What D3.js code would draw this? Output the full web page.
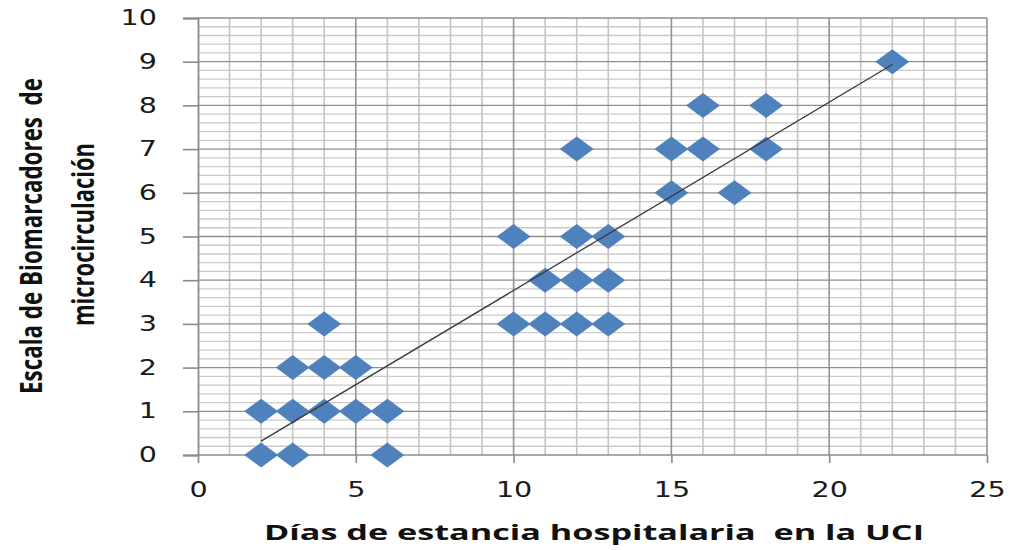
<!DOCTYPE html>
<html>
<head>
<meta charset="utf-8">
<script src="https://cdn.jsdelivr.net/npm/d3@7"></script>
<style>
  html, body { margin: 0; padding: 0; background: #ffffff; }
  svg { display: block; }
</style>
</head>
<body>
<svg id="chart" width="1012" height="550"></svg>
<script>
// ---- data ----
const diasUCI = [2, 3, 6, 2, 3, 4, 5, 6, 3, 4, 5, 4, 10, 11, 12, 13, 11, 12, 13, 10, 12, 13, 15, 17, 12, 15, 16, 18, 16, 18, 22];
const escala  = [0, 0, 0, 1, 1, 1, 1, 1, 2, 2, 2, 3, 3, 3, 3, 3, 4, 4, 4, 5, 5, 5, 6, 6, 7, 7, 7, 7, 8, 8, 9];
const xTicks = [0, 5, 10, 15, 20, 25];
const yTicks = [0, 1, 2, 3, 4, 5, 6, 7, 8, 9, 10];
const xTitle = "Días de estancia hospitalaria  en la UCI";
const yTitleLines = ["Escala de Biomarcadores  de", "microcirculación"];

// ---- layout ----
const svg = d3.select("#chart");
const pLeft = 198, pRight = 987, pTop = 18, pBottom = 455;
const x = d3.scaleLinear().domain([0, 25]).range([pLeft, pRight]);
const y = d3.scaleLinear().domain([0, 10]).range([pBottom, pTop]);

// ---- grid ----
const g = svg.append("g");
// minor horizontal (every 0.2)
g.selectAll("line.hmin").data(d3.range(0, 50).map(i => i / 5).filter(v => Math.abs(v - Math.round(v)) > 1e-6))
  .join("line").attr("class", "hmin")
  .attr("x1", pLeft).attr("x2", pRight)
  .attr("y1", d => y(d)).attr("y2", d => y(d))
  .attr("stroke", "#cacaca").attr("stroke-width", 1.3);
// minor vertical (every 1)
g.selectAll("line.vmin").data(d3.range(1, 25).filter(v => v % 5 !== 0))
  .join("line").attr("class", "vmin")
  .attr("x1", d => x(d)).attr("x2", d => x(d))
  .attr("y1", pTop).attr("y2", pBottom)
  .attr("stroke", "#c4c4c4").attr("stroke-width", 1.6);
// major vertical (every 5)
g.selectAll("line.vmaj").data(xTicks.filter(v => v > 0))
  .join("line").attr("class", "vmaj")
  .attr("x1", d => x(d)).attr("x2", d => x(d))
  .attr("y1", pTop).attr("y2", pBottom)
  .attr("stroke", "#939393").attr("stroke-width", 1.6);
// major horizontal (integers)
g.selectAll("line.hmaj").data(yTicks)
  .join("line").attr("class", "hmaj")
  .attr("x1", pLeft).attr("x2", pRight)
  .attr("y1", d => y(d)).attr("y2", d => y(d))
  .attr("stroke", "#8e8e8e").attr("stroke-width", 1.3);

// ---- axes ----
const yAxis = d3.axisLeft(y).tickValues(yTicks).tickSize(15).tickPadding(26).tickFormat(d3.format("d"));
const xAxis = d3.axisBottom(x).tickValues(xTicks).tickSize(8).tickPadding(18).tickFormat(d3.format("d"));

const gy = svg.append("g").attr("transform", `translate(${pLeft},0)`).call(yAxis);
const gx = svg.append("g").attr("transform", `translate(0,${pBottom})`).call(xAxis);
[gy, gx].forEach(a => {
  a.select(".domain").attr("stroke", "#8a8a8a").attr("stroke-width", 1.8);
  a.selectAll(".tick line").attr("stroke", "#8a8a8a").attr("stroke-width", 1.6);
  a.selectAll(".tick text")
    .attr("font-family", "DejaVu Sans, Verdana, sans-serif")
    .attr("font-size", 22)
    .attr("fill", "#1a1a1a");
});
gx.select(".domain").remove();
gx.selectAll(".tick text").attr("dy", "0.72em");
gy.selectAll(".tick text").attr("dy", "0.3em");
// horizontally stretched digits like the reference
[gy, gx].forEach(a => a.selectAll(".tick text").each(function () {
  const w = this.getComputedTextLength();
  d3.select(this).attr("textLength", w * 1.3).attr("lengthAdjust", "spacingAndGlyphs");
}));

// ---- trendline (least squares) ----
const n = diasUCI.length;
const mx = d3.mean(diasUCI), my = d3.mean(escala);
let sxy = 0, sxx = 0;
for (let i = 0; i < n; i++) { sxy += (diasUCI[i] - mx) * (escala[i] - my); sxx += (diasUCI[i] - mx) ** 2; }
const slope = sxy / sxx, intercept = my - slope * mx;
const [xmin, xmax] = d3.extent(diasUCI);

// ---- markers ----
const pts = diasUCI.map((d, i) => ({ x: d, y: escala[i] }));
svg.append("g").selectAll("path").data(pts).join("path")
  .attr("transform", d => `translate(${x(d.x)},${y(d.y)})`)
  .attr("d", "M0,-12.5L17,0L0,12.5L-17,0Z")
  .attr("fill", "#4f81bd");

svg.append("line")
  .attr("x1", x(xmin)).attr("y1", y(intercept + slope * xmin))
  .attr("x2", x(xmax)).attr("y2", y(intercept + slope * xmax))
  .attr("stroke", "#3a3a3a").attr("stroke-width", 1.3);

// ---- titles ----
svg.append("text")
  .attr("x", 264).attr("y", 540)
  .attr("font-family", "Open Sans, Liberation Sans, sans-serif")
  .attr("font-weight", "bold").attr("font-size", 22)
  .attr("fill", "#111")
  .attr("textLength", 660).attr("lengthAdjust", "spacingAndGlyphs")
  .style("white-space", "pre")
  .text(xTitle);

const yt = [
  { cx: 42, y0: 394, len: 316 },
  { cx: 94, y0: 326, len: 183 }
];
yTitleLines.forEach((t, i) => {
  svg.append("text")
    .attr("transform", `translate(${yt[i].cx},${yt[i].y0}) rotate(-90)`)
    .attr("font-family", "Open Sans, Liberation Sans, sans-serif")
    .attr("font-weight", "bold").attr("font-size", 31)
    .attr("fill", "#111")
    .attr("textLength", yt[i].len).attr("lengthAdjust", "spacingAndGlyphs")
    .style("white-space", "pre")
    .text(t);
});
</script>
</body>
</html>
